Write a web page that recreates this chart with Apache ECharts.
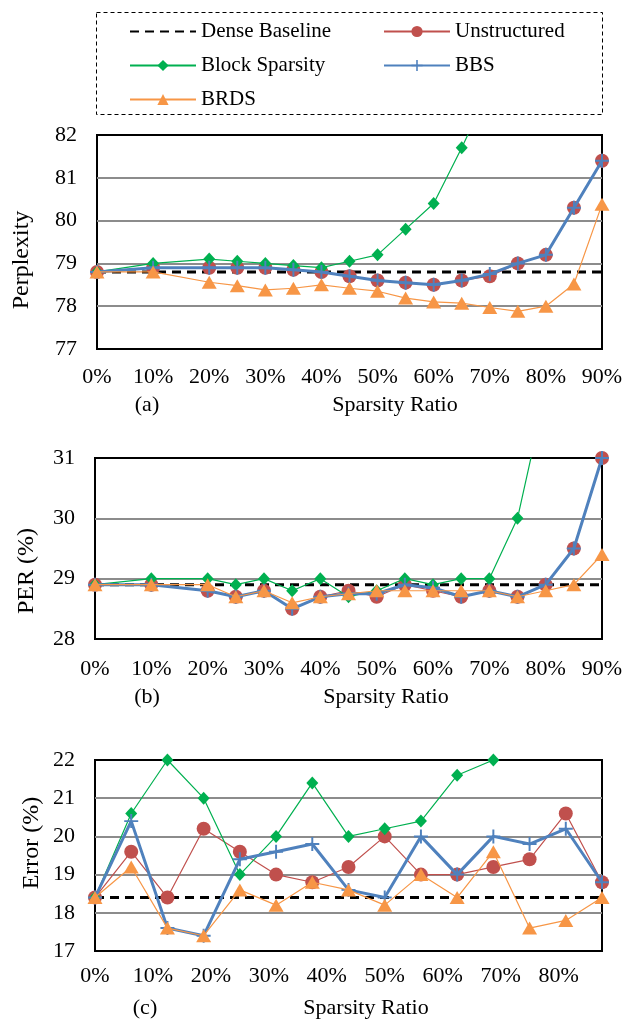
<!DOCTYPE html>
<html lang="en">
<head>
    <meta charset="UTF-8">
    <title>Sparsity Ratio</title>
    <style>
        html, body { margin: 0; padding: 0; background: #fff; }
        #app { width: 637px; height: 1021px; }
    </style>
    <script src="https://cdn.jsdelivr.net/npm/echarts@6/dist/echarts.min.js"></script>
</head>
<body>
    <div id="app"></div>
    <script>
        // x positions (sparsity %)
        var xAB = [0, 10, 20, 25, 30, 35, 40, 45, 50, 55, 60, 65, 70, 75, 80, 85, 90]
        var xC = [0, 6.25, 12.5, 18.75, 25, 31.25, 37.5, 43.75, 50, 56.25, 62.5, 68.75, 75, 81.25, 87.5]

        // (a) perplexity
        var denseA = 78.8
        var unstructA = [78.8, 78.9, 78.9, 78.9, 78.9, 78.85, 78.8, 78.7, 78.6, 78.55, 78.5, 78.6, 78.7, 79.0, 79.2, 80.3, 81.4]
        var blockA = [78.8, 79.0, 79.1, 79.05, 79.0, 78.95, 78.9, 79.05, 79.2, 79.8, 80.4, 81.7, 83.1]
        var bbsA = [78.8, 78.9, 78.9, 78.9, 78.9, 78.85, 78.8, 78.7, 78.6, 78.55, 78.5, 78.6, 78.75, 79.0, 79.2, 80.3, 81.4]
        var brdsA = [78.8, 78.8, 78.56, 78.48, 78.38, 78.42, 78.5, 78.42, 78.35, 78.19, 78.1, 78.07, 77.97, 77.88, 78.0, 78.52, 80.38]

        // (b) PER
        var denseB = 28.9
        var unstructB = [28.9, 28.9, 28.8, 28.7, 28.8, 28.5, 28.7, 28.8, 28.7, 28.9, 28.8, 28.7, 28.8, 28.7, 28.9, 29.5, 31.0]
        var blockB = [28.9, 29.0, 29.0, 28.9, 29.0, 28.8, 29.0, 28.7, 28.8, 29.0, 28.9, 29.0, 29.0, 30.0, 32.1]
        var bbsB = [28.9, 28.9, 28.8, 28.7, 28.8, 28.5, 28.7, 28.75, 28.75, 28.9, 28.85, 28.7, 28.8, 28.7, 28.9, 29.5, 31.0]
        var brdsB = [28.9, 28.9, 28.9, 28.7, 28.8, 28.6, 28.7, 28.75, 28.8, 28.8, 28.8, 28.8, 28.8, 28.7, 28.8, 28.9, 29.4]

        // (c) error
        var denseC = 18.4
        var unstructC = [18.4, 19.6, 18.4, 20.2, 19.6, 19.0, 18.8, 19.2, 20.0, 19.0, 19.0, 19.2, 19.4, 20.6, 18.8]
        var blockC = [18.4, 20.6, 22.0, 21.0, 19.0, 20.0, 21.4, 20.0, 20.2, 20.4, 21.6, 22.0]
        var bbsC = [18.4, 20.4, 17.6, 17.4, 19.4, 19.6, 19.8, 18.6, 18.4, 20.0, 19.0, 20.0, 19.8, 20.2, 18.8]
        var brdsC = [18.4, 19.2, 17.6, 17.4, 18.6, 18.2, 18.8, 18.6, 18.2, 19.0, 18.4, 19.6, 17.6, 17.8, 18.4]

        var yTitles = ['Perplexity', 'PER (%)', 'Error (%)']
        var panelTags = ['(a)', '(b)', '(c)']
        var xTitle = 'Sparsity Ratio'

        var FONT = "'Liberation Serif', 'Times New Roman', serif"
        var RED = '#C0504D', GREEN = '#00B050', BLUE = '#4F81BD', ORANGE = '#F79646'
        var PLUS = 'path://M0,4.3H10V5.7H0Z M4.3,0H5.7V10H4.3Z'

        function pairs(xs, ys) {
            return ys.map(function (v, i) { return [xs[i], v] })
        }

        var grids = [
            { left: 97, right: 35, top: 135, height: 214 },
            { left: 95, right: 35, top: 458, height: 181 },
            { left: 95, right: 35, top: 760, height: 191 }
        ]
        var yRanges = [[77, 82], [28, 31], [17, 22]]
        var xMax = [90, 90, 87.5]
        var labelMargin = [17, 19, 14]

        var legendText = { fontFamily: FONT, fontSize: 21, color: '#000', lineHeight: 21 }

        var option = {
            animation: false,
            textStyle: { fontFamily: FONT },
            grid: grids.map(function (g) {
                return Object.assign({ show: true, borderColor: '#000', borderWidth: 2, backgroundColor: 'transparent' }, g)
            }),
            xAxis: [0, 1, 2].map(function (i) {
                return {
                    type: 'value', gridIndex: i, min: 0, max: xMax[i], interval: 10,
                    axisLine: { show: false }, axisTick: { show: false }, splitLine: { show: false },
                    axisLabel: {
                        margin: labelMargin[i], fontSize: 22, color: '#000', fontFamily: FONT,
                        showMaxLabel: i < 2,
                        formatter: function (v) { return v % 10 === 0 ? v + '%' : '' }
                    }
                }
            }),
            yAxis: [0, 1, 2].map(function (i) {
                return {
                    type: 'value', gridIndex: i, min: yRanges[i][0], max: yRanges[i][1], interval: 1,
                    axisLine: { show: false }, axisTick: { show: false },
                    splitLine: { show: true, showMinLine: false, showMaxLine: false, lineStyle: { color: '#8c8c8c', width: 2 } },
                    axisLabel: { margin: 20, fontSize: 22, color: '#000', fontFamily: FONT }
                }
            }),
            legend: [
                {
                    data: [{ name: 'Dense Baseline', itemStyle: { opacity: 0 } }, 'Block Sparsity', 'BRDS'],
                    orient: 'vertical', left: 124, top: 16, itemWidth: 66, itemHeight: 14, itemGap: 13,
                    selectedMode: false,
                    textStyle: legendText
                },
                {
                    data: ['Unstructured', 'BBS'],
                    orient: 'vertical', left: 378, top: 16, itemWidth: 66, itemHeight: 14, itemGap: 13,
                    selectedMode: false,
                    textStyle: legendText
                }
            ],
            graphic: [
                {
                    type: 'rect', shape: { x: 96.5, y: 12.5, width: 506, height: 102 },
                    style: { fill: 'none', stroke: '#000', lineWidth: 1, lineDash: [4, 3] }
                }
            ],
            series: []
        }

        var xTitlePos = [[147, 405, 395], [147, 697, 386], [145, 1008, 366]]
        var yTitlePos = [[22, 260], [27, 571], [32, 843]]
        for (var i = 0; i < 3; i++) {
            option.graphic.push({
                type: 'text', x: yTitlePos[i][0], y: yTitlePos[i][1], rotation: Math.PI / 2,
                style: { text: yTitles[i], font: '24px ' + FONT, fill: '#000', align: 'center', verticalAlign: 'middle' }
            })
            option.graphic.push({
                type: 'text', x: xTitlePos[i][0], y: xTitlePos[i][1],
                style: { text: panelTags[i], font: '22px ' + FONT, fill: '#000', align: 'center', verticalAlign: 'middle' }
            })
            option.graphic.push({
                type: 'text', x: xTitlePos[i][2], y: xTitlePos[i][1],
                style: { text: xTitle, font: '22px ' + FONT, fill: '#000', align: 'center', verticalAlign: 'middle' }
            })
        }

        var panels = [
            { xs: xAB, dense: denseA, u: unstructA, b: blockA, bbs: bbsA, r: brdsA },
            { xs: xAB, dense: denseB, u: unstructB, b: blockB, bbs: bbsB, r: brdsB },
            { xs: xC, dense: denseC, u: unstructC, b: blockC, bbs: bbsC, r: brdsC }
        ]

        panels.forEach(function (p, i) {
            var base = { type: 'line', xAxisIndex: i, yAxisIndex: i, clip: true }
            option.series.push(Object.assign({}, base, {
                name: 'Dense Baseline', z: 2, symbol: 'none',
                data: p.xs.map(function (x) { return [x, p.dense] }),
                lineStyle: { color: '#000', width: 3, type: [9, 6] },
                itemStyle: { color: '#000' }
            }))
            option.series.push(Object.assign({}, base, {
                name: 'Unstructured', z: 3, symbol: 'circle', symbolSize: 14,
                data: pairs(p.xs, p.u),
                lineStyle: { color: RED, width: 1.2 },
                itemStyle: { color: RED, borderWidth: 0 }
            }))
            option.series.push(Object.assign({}, base, {
                name: 'Block Sparsity', z: 4, symbol: 'diamond', symbolSize: [12, 13],
                data: pairs(p.xs, p.b),
                lineStyle: { color: GREEN, width: 1.2 },
                itemStyle: { color: GREEN, borderWidth: 0 }
            }))
            option.series.push(Object.assign({}, base, {
                name: 'BBS', z: 5, symbol: PLUS, symbolSize: 14,
                data: pairs(p.xs, p.bbs),
                lineStyle: { color: BLUE, width: 3 },
                itemStyle: { color: BLUE, borderWidth: 0 }
            }))
            option.series.push(Object.assign({}, base, {
                name: 'BRDS', z: 6, symbol: 'triangle', symbolSize: [15, 13],
                data: pairs(p.xs, p.r),
                lineStyle: { color: ORANGE, width: 1.2 },
                itemStyle: { color: ORANGE, borderWidth: 0 }
            }))
        })

        var mychart = echarts.init(document.getElementById('app'))
        mychart.setOption(option)
    </script>
</body>
</html>
